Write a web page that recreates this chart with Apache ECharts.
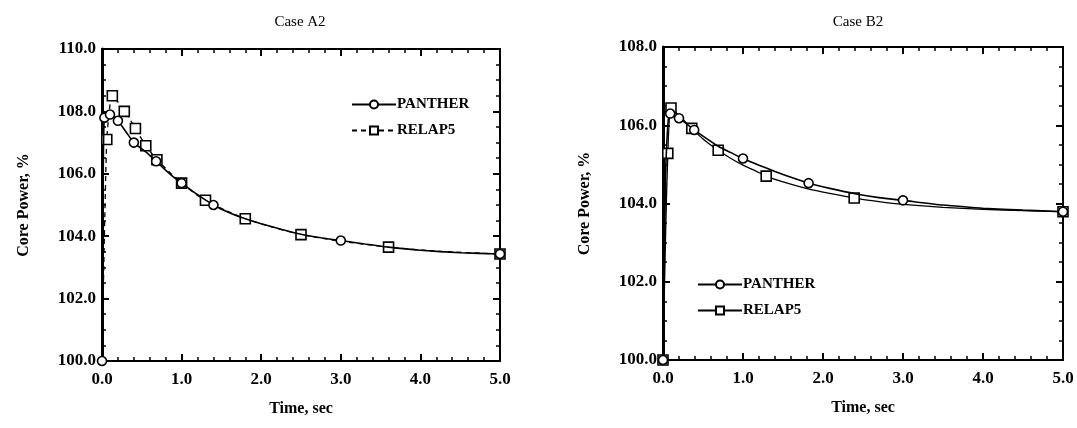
<!DOCTYPE html>
<html>
<head>
<meta charset="utf-8">
<script src="https://cdn.jsdelivr.net/npm/echarts@6/dist/echarts.min.js"></script>
<style>
  html, body { margin: 0; padding: 0; background: #fff; }
  #wrap { position: relative; width: 1077px; height: 428px; }
  .chart { position: absolute; top: 0; height: 428px; }
  #a2 { left: 0; width: 540px; }
  #b2 { left: 540px; width: 537px; }
</style>
</head>
<body>
<div id="wrap">
  <div id="a2" class="chart"></div>
  <div id="b2" class="chart"></div>
</div>
<script>
// curves: [time (s), core power (%)]
const pantherA2 = [[0, 100], [0.015, 105.5], [0.03, 107.8], [0.1, 107.9], [0.2, 107.7], [0.3, 107.35],
  [0.4, 107.0], [0.55, 106.7], [0.68, 106.4], [0.85, 106.0], [1.0, 105.7], [1.2, 105.33], [1.4, 105.0],
  [1.6, 104.75], [1.8, 104.56], [2.0, 104.4], [2.25, 104.22], [2.5, 104.06], [2.75, 103.95], [3.0, 103.86],
  [3.3, 103.75], [3.6, 103.65], [4.0, 103.55], [4.5, 103.47], [5.0, 103.43]];
const relapA2 = [[0, 100], [0.03, 104.0], [0.06, 107.1], [0.1, 108.2], [0.13, 108.5], [0.2, 108.3],
  [0.28, 108.0], [0.35, 107.75], [0.42, 107.45], [0.55, 106.9], [0.69, 106.45], [0.85, 106.05], [1.0, 105.7],
  [1.15, 105.4], [1.3, 105.15], [1.55, 104.83], [1.8, 104.56], [2.1, 104.32], [2.5, 104.05], [3.0, 103.84],
  [3.6, 103.65], [4.2, 103.52], [5.0, 103.43]];
const pantherB2 = [[0, 100], [0.03, 104.5], [0.06, 106.0], [0.09, 106.3], [0.2, 106.18], [0.3, 106.03],
  [0.39, 105.88], [0.55, 105.65], [0.7, 105.45], [0.85, 105.3], [1.0, 105.15], [1.2, 104.98], [1.4, 104.82],
  [1.6, 104.67], [1.82, 104.52], [2.1, 104.38], [2.4, 104.25], [2.7, 104.15], [3.0, 104.08], [3.5, 103.96],
  [4.0, 103.88], [4.5, 103.83], [5.0, 103.79]];
const relapB2 = [[0, 100], [0.03, 103.0], [0.06, 105.28], [0.1, 106.44], [0.2, 106.25], [0.36, 105.92],
  [0.5, 105.65], [0.69, 105.36], [0.85, 105.15], [1.0, 104.98], [1.15, 104.84], [1.29, 104.7], [1.5, 104.55],
  [1.8, 104.38], [2.1, 104.25], [2.39, 104.14], [2.7, 104.05], [3.0, 103.98], [3.5, 103.9], [4.0, 103.85],
  [4.5, 103.82], [5.0, 103.79]];

// times where the plotted curves carry a marker
const pantherMarksA2 = [0, 0.03, 0.1, 0.2, 0.4, 0.68, 1.0, 1.4, 3.0, 5.0];
const relapMarksA2 = [0.06, 0.13, 0.28, 0.42, 0.55, 0.69, 1.0, 1.3, 1.8, 2.5, 3.6, 5.0];
const pantherMarksB2 = [0, 0.09, 0.2, 0.39, 1.0, 1.82, 3.0, 5.0];
const relapMarksB2 = [0, 0.06, 0.1, 0.36, 0.69, 1.29, 2.39, 5.0];

const timeTicks = [0, 1, 2, 3, 4, 5];
const seriesNames = ["PANTHER", "RELAP5"];

const font = "Liberation Serif";

function withMarks(curve, marks) {
  return curve.map(p => marks.includes(p[0]) ? { value: p } : { value: p, symbol: "none" });
}

function frameAxis(extra) {
  return Object.assign({
    axisLine: { show: true, onZero: false, lineStyle: { color: "#000", width: 2 } },
    axisTick: { show: true, inside: true, length: 7, lineStyle: { color: "#000", width: 2 } },
    splitLine: { show: false },
    axisLabel: { show: false }
  }, extra);
}

function makeChart(el, cfg) {
  let chart = echarts.init(document.getElementById(el));
  let xMinor = { show: true, splitNumber: 5, length: 4, lineStyle: { color: "#000", width: 1.5 } };
  let yMinor = { show: true, splitNumber: 4, length: 4, lineStyle: { color: "#000", width: 1.5 } };
  chart.setOption({
    backgroundColor: "#fff",
    animation: false,
    textStyle: { fontFamily: font, color: "#000" },
    title: {
      text: cfg.title,
      left: cfg.titleX, top: 10,
      textAlign: "center",
      textStyle: { fontFamily: font, fontSize: 15, fontWeight: "normal", color: "#000" }
    },
    grid: cfg.grid,
    legend: Object.assign({
      data: seriesNames,
      orient: "vertical",
      itemWidth: 44, itemHeight: 10, itemGap: 11,
      textStyle: { fontFamily: font, fontSize: 15, fontWeight: "bold", color: "#000", padding: [0, 0, 0, -4] }
    }, cfg.legend),
    xAxis: [
      frameAxis({
        type: "value", min: timeTicks[0], max: timeTicks[timeTicks.length - 1], interval: 1,
        minorTick: xMinor,
        axisLabel: {
          show: true, margin: 10, fontFamily: font, fontSize: 17, fontWeight: "bold", color: "#000",
          formatter: v => v.toFixed(1)
        },
        name: "Time, sec", nameLocation: "middle", nameGap: 40,
        nameTextStyle: { fontFamily: font, fontSize: 16, fontWeight: "bold", color: "#000" }
      }),
      frameAxis({
        type: "value", position: "top", min: 0, max: 5, interval: 1, minorTick: xMinor
      })
    ],
    yAxis: [
      frameAxis({
        type: "value", min: 100, max: cfg.yMax, interval: 2,
        axisLine: { show: true, onZero: false, lineStyle: { color: "#000", width: 3 } },
        minorTick: yMinor,
        axisLabel: {
          show: true, margin: 6, fontFamily: font, fontSize: 17, fontWeight: "bold", color: "#000",
          formatter: v => v.toFixed(1)
        },
        name: "Core Power, %", nameLocation: "middle", nameGap: 70,
        nameTextStyle: { fontFamily: font, fontSize: 16, fontWeight: "bold", color: "#000" }
      }),
      frameAxis({
        type: "value", position: "right", min: 100, max: cfg.yMax, interval: 2, minorTick: yMinor
      })
    ],
    series: [
      {
        name: seriesNames[0], type: "line", data: withMarks(cfg.panther, cfg.pantherMarks),
        smooth: 0.2,
        symbol: "circle", symbolSize: 9, showSymbol: true,
        itemStyle: { color: "#fff", borderColor: "#000", borderWidth: 1.6 },
        lineStyle: { color: "#000", width: 1.6 },
        z: 3
      },
      {
        name: seriesNames[1], type: "line", data: withMarks(cfg.relap, cfg.relapMarks),
        smooth: 0.2,
        symbol: "rect", symbolSize: 10, showSymbol: true,
        itemStyle: { color: "#fff", borderColor: "#000", borderWidth: 1.6 },
        lineStyle: { color: "#000", width: 1.3, type: cfg.relapDash },
        z: 2
      }
    ]
  });
  return chart;
}

makeChart("a2", {
  title: "Case A2", titleX: 295,
  grid: { left: 102, right: 40, top: 49, bottom: 67 },
  yMax: 110,
  legend: { left: 346, top: 92 },
  panther: pantherA2, relap: relapA2, relapDash: [5, 4],
  pantherMarks: pantherMarksA2, relapMarks: relapMarksA2
});

makeChart("b2", {
  title: "Case B2", titleX: 313,
  grid: { left: 123, right: 14, top: 47, bottom: 68 },
  yMax: 108,
  legend: { left: 152, top: 272 },
  panther: pantherB2, relap: relapB2, relapDash: "solid",
  pantherMarks: pantherMarksB2, relapMarks: relapMarksB2
});
</script>
</body>
</html>
